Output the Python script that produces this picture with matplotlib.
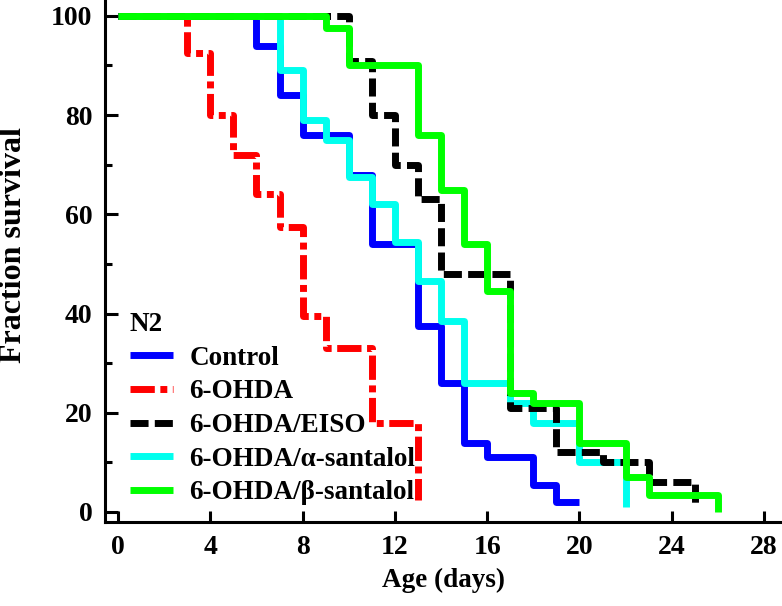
import matplotlib
matplotlib.use("Agg")
import matplotlib.pyplot as plt
from matplotlib.ticker import MultipleLocator

# ---- data ----
control_days = [0, 6, 7, 8, 10, 11, 13, 14, 15, 16, 18, 19, 20]
control_surv = [100, 94, 84, 76, 68, 54, 37.5, 26, 14, 11, 5.5, 2, 2]

ohda_days = [0, 3, 4, 5, 6, 7, 8, 9, 11, 13]
ohda_surv = [100, 92.5, 80, 72, 64, 57.5, 39.5, 33, 18, 2.5]

eiso_days = [0, 10, 11, 12, 13, 14, 17, 19, 21, 23, 25]
eiso_surv = [100, 91, 80, 70, 63, 48, 21, 12, 10, 6, 1.5]

alpha_days = [0, 7, 8, 9, 10, 11, 12, 13, 14, 15, 17, 18, 20, 22]
alpha_surv = [100, 89, 79, 75, 67.5, 62, 54.5, 46.5, 38.5, 26, 22, 18, 10, 1]

beta_days = [0, 9, 10, 13, 14, 15, 16, 17, 18, 20, 22, 23, 26]
beta_surv = [100, 97.5, 90, 76, 65, 54, 44.5, 24, 22, 14, 7, 3.5, 0]

labels = ["Control", "6-OHDA", "6-OHDA/EISO", "6-OHDA/\u03b1-santalol", "6-OHDA/\u03b2-santalol"]
legend_title = "N2"
x_ticks = [0, 4, 8, 12, 16, 20, 24, 28]
y_ticks = [0, 20, 40, 60, 80, 100]

plt.rcParams['font.family'] = ['Liberation Serif', 'DejaVu Serif']
plt.rcParams['font.weight'] = 'bold'

fig = plt.figure(figsize=(7.82, 6.06), dpi=100)
ax = fig.add_axes([105/782, 84/606, 677/782, 522/606])

lw = 5
ax.plot(control_days, control_surv, drawstyle='steps-post', color='#0000FF', lw=lw,
        solid_capstyle='butt', label=labels[0], zorder=2)
ax.plot(ohda_days, ohda_surv, drawstyle='steps-post', color='#FF0000', lw=lw,
        linestyle=(0, (3.5, 0.8, 1.0, 0.8)), dash_capstyle='butt', label=labels[1], zorder=3)
ax.plot(eiso_days, eiso_surv, drawstyle='steps-post', color='#000000', lw=lw,
        linestyle=(0, (2.6, 0.9)), dash_capstyle='butt', label=labels[2], zorder=5)
ax.plot(alpha_days, alpha_surv, drawstyle='steps-post', color='#00FFEE', lw=lw,
        solid_capstyle='butt', label=labels[3], zorder=4)
ax.plot(beta_days, beta_surv, drawstyle='steps-post', color='#00FF00', lw=lw,
        solid_capstyle='butt', label=labels[4], zorder=6)

ax.set_xlim(-0.5635, 28.78)
ax.set_ylim(-2.016, 103.2)
ax.set_xticks(x_ticks)
ax.set_yticks(y_ticks)
ax.yaxis.set_minor_locator(MultipleLocator(10))

for s in ['top', 'right']:
    ax.spines[s].set_visible(False)
for s in ['left', 'bottom']:
    ax.spines[s].set_linewidth(2.2)

ax.tick_params(axis='y', which='major', direction='in', length=9, width=2.2, pad=9, labelsize=20)
ax.tick_params(axis='y', which='minor', direction='in', length=5, width=2.2)
ax.tick_params(axis='x', which='major', direction='in', length=7.7, width=2.2, pad=9, labelsize=20)
for t in ax.get_xticklabels() + ax.get_yticklabels():
    t.set_fontweight('bold')

ax.set_xlabel("Age (days)", fontsize=19.5, fontweight='bold')
ax.set_ylabel("Fraction survival", fontsize=23, fontweight='bold')
ax.xaxis.set_label_coords(0.5, (522 - 568) / 522)
ax.yaxis.set_label_coords((28 - 105) / 677, (522 - 245) / 522)

leg = ax.legend(title=legend_title, loc='upper left', bbox_to_anchor=(25/677, (522-312)/522),
                frameon=False, borderpad=0, borderaxespad=0, handlelength=1.59,
                handletextpad=0.6, labelspacing=0.32, alignment='left',
                prop={'size': 19.5, 'weight': 'bold', 'family': ['Liberation Serif', 'DejaVu Serif']},
                title_fontproperties={'size': 19.5, 'weight': 'bold', 'family': ['Liberation Serif', 'DejaVu Serif']})

fig.savefig("out.png", dpi=100)
